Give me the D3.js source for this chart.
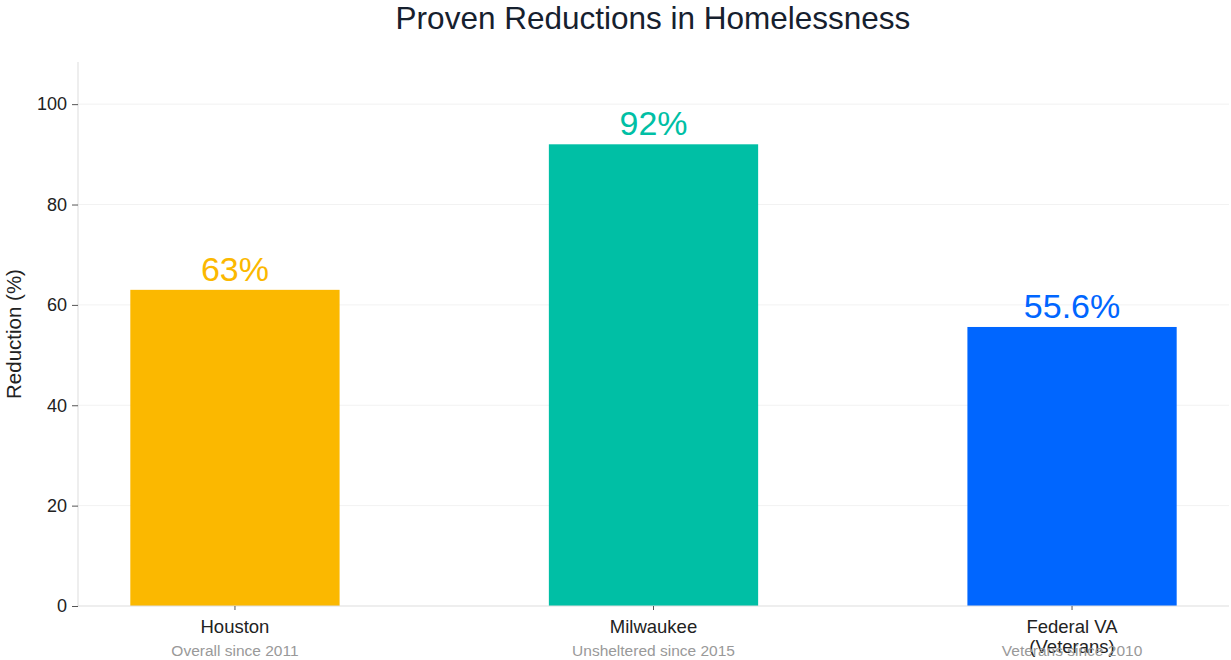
<!DOCTYPE html>
<html>
<head>
<meta charset="utf-8">
<script src="https://cdn.jsdelivr.net/npm/d3@7"></script>
<style>
  html, body { margin: 0; padding: 0; background: #fff; }
  svg { display: block; font-family: "Liberation Sans", Arial, Helvetica, sans-serif; }
</style>
</head>
<body>
<svg id="chart" width="1231" height="660"></svg>
<script>
const categories = ["Houston", "Milwaukee", "Federal VA (Veterans)"];
const categoryLines = [["Houston"], ["Milwaukee"], ["Federal VA", "(Veterans)"]];
const subtitles = ["Overall since 2011", "Unsheltered since 2015", "Veterans since 2010"];
const reductions = [63, 92, 55.6];
const valueLabels = ["63%", "92%", "55.6%"];
const barColors = ["#FBB800", "#00BFA5", "#0066FF"];
const yTicks = [0, 20, 40, 60, 80, 100];

const svg = d3.select("#chart");
const margin = { left: 78, right: 2, top: 62, bottom: 54 };
const W = 1231, H = 660;

const x = d3.scaleBand()
  .domain(categories)
  .range([margin.left, W - margin.right])
  .paddingInner(0.5)
  .paddingOuter(0.125);

const y = d3.scaleLinear()
  .domain([0, 108.4])
  .range([H - margin.bottom, margin.top]);

// horizontal gridlines
svg.append("g")
  .selectAll("line")
  .data(yTicks.filter(d => d > 0))
  .join("line")
  .attr("x1", margin.left)
  .attr("x2", W - margin.right)
  .attr("y1", d => y(d))
  .attr("y2", d => y(d))
  .attr("stroke", "#f2f2f2")
  .attr("stroke-width", 1);

// bars
svg.append("g")
  .selectAll("rect")
  .data(reductions)
  .join("rect")
  .attr("x", (d, i) => x(categories[i]))
  .attr("width", x.bandwidth())
  .attr("y", d => y(d))
  .attr("height", d => y(0) - y(d))
  .attr("fill", (d, i) => barColors[i]);

// value labels
svg.append("g")
  .selectAll("text")
  .data(reductions)
  .join("text")
  .attr("x", (d, i) => x(categories[i]) + x.bandwidth() / 2)
  .attr("y", d => y(d) - 9)
  .attr("text-anchor", "middle")
  .attr("font-size", 34)
  .attr("fill", (d, i) => barColors[i])
  .text((d, i) => valueLabels[i]);

// y axis
const yAxis = svg.append("g")
  .attr("transform", `translate(${margin.left},0)`)
  .call(d3.axisLeft(y).tickValues(yTicks).tickSize(6).tickPadding(5));
yAxis.select(".domain").attr("stroke", "#dddddd").attr("d", `M0,${y(0)}V${margin.top}`);
yAxis.selectAll(".tick line").attr("stroke", "#555");
yAxis.selectAll(".tick text")
  .attr("font-size", 18)
  .attr("fill", "#222")
  .attr("font-family", "Liberation Sans, Arial, sans-serif");

// x axis
const xAxis = svg.append("g")
  .attr("transform", `translate(0,${y(0)})`)
  .call(d3.axisBottom(x).tickSize(4).tickFormat(""));
xAxis.select(".domain").attr("stroke", "#dddddd").attr("d", `M${margin.left},0H${W - margin.right}`);
xAxis.selectAll(".tick line").attr("stroke", "#555");

// category labels (long names wrap onto a second line)
const catG = svg.append("g");
categories.forEach((c, i) => {
  const t = catG.append("text")
    .attr("x", x(c) + x.bandwidth() / 2)
    .attr("y", 633)
    .attr("text-anchor", "middle")
    .attr("font-size", 18.5)
    .attr("fill", "#222");
  categoryLines[i].forEach((line, j) => {
    t.append("tspan")
      .attr("x", x(c) + x.bandwidth() / 2)
      .attr("dy", j === 0 ? 0 : 20)
      .text(line);
  });
});

// sub labels
svg.append("g")
  .selectAll("text")
  .data(subtitles)
  .join("text")
  .attr("x", (d, i) => x(categories[i]) + x.bandwidth() / 2)
  .attr("y", 656)
  .attr("text-anchor", "middle")
  .attr("font-size", 15.5)
  .attr("fill", "#999")
  .text(d => d);

// y axis title
svg.append("text")
  .attr("transform", `translate(21,${(y(0) + y(108.4)) / 2}) rotate(-90)`)
  .attr("text-anchor", "middle")
  .attr("font-size", 20.5)
  .attr("fill", "#222")
  .text("Reduction (%)");

// chart title
svg.append("text")
  .attr("x", 653)
  .attr("y", 29)
  .attr("text-anchor", "middle")
  .attr("font-size", 31.5)
  .attr("fill", "#16202e")
  .text("Proven Reductions in Homelessness");
</script>
</body>
</html>
